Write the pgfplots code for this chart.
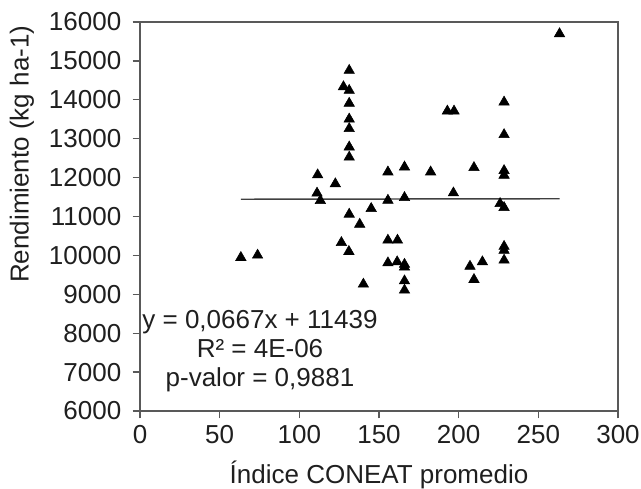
\documentclass[border=0pt]{standalone}
\usepackage{fontspec}
\setmainfont{Liberation Sans}
\usepackage{pgfplots}
\pgfplotsset{compat=1.18}
\definecolor{frame}{gray}{0.35}
\definecolor{txt}{gray}{0.12}
\begin{document}
\begin{tikzpicture}
\path[use as bounding box] (-105pt,-57.75pt) rectangle (375.75pt,308.25pt);
\begin{axis}[
  at={(0,0)}, anchor=south west,
  scale only axis, width=358.5pt, height=291.75pt,
  xmin=0, xmax=300, ymin=6000, ymax=16000,
  xtick={0,50,...,300}, ytick={6000,7000,...,16000},
  scaled y ticks=false, scaled x ticks=false,
  tick align=outside, xtick pos=bottom, ytick pos=left,
  major tick length=5.5pt,
  axis line style={color=frame, line width=1pt},
  tick style={color=frame, line width=1pt},
  /pgf/number format/assume math mode=true,
  /pgf/number format/1000 sep={},
  ticklabel style={font=\fontsize{19.5}{23}\selectfont, text=txt},
  yticklabel style={xshift=-5pt},
  xticklabel style={yshift=-2pt},
  xlabel={Índice CONEAT promedio},
  ylabel={Rendimiento (kg ha-1)},
  label style={font=\fontsize{19.5}{23}\selectfont, text=txt},
  x label style={at={(axis description cs:0.5,-0.165)}, anchor=center},
  y label style={at={(axis description cs:-0.247,0.66)}, anchor=center},
]
\addplot[color=black!75, line width=1.1pt, no marks] coordinates {(63.3,11443.2) (263.3,11456.6)};
\addplot[only marks, mark=triangle*, mark size=4.5pt, black] table {
x y
63.3 9946
73.8 10005
111.5 12070
111.1 11600
113.2 11410
122.6 11840
126.4 10330
127.7 14335
131.3 14755
131.3 14241
131.3 13910
131.3 13505
131.3 13258
131.3 12786
131.3 12525
131.3 11058
131.1 10100
137.9 10800
140.2 9260
145.1 11205
155.6 12144
155.6 11417
155.6 10390
155.6 9808
161.6 10390
161.4 9834
166 12272
166 11487
166 9770
166 9700
166 9345
166 9106
182.4 12144
192.9 13710
197.1 13710
196.7 11605
207.1 9720
209.6 12257
209.6 9380
214.9 9834
226 11332
228.5 11230
228.5 13941
228.5 13104
228.5 12180
228.5 12060
228.5 10230
228.5 10130
228.5 9877
263.3 15697
};
\node[align=center, font=\fontsize{19.5}{21.75}\selectfont, text=txt] at (axis cs:75.3,7530) {y = 0,0667x + 11439\\R² = 4E-06\\p-valor = 0,9881};
\end{axis}
\end{tikzpicture}
\end{document}
